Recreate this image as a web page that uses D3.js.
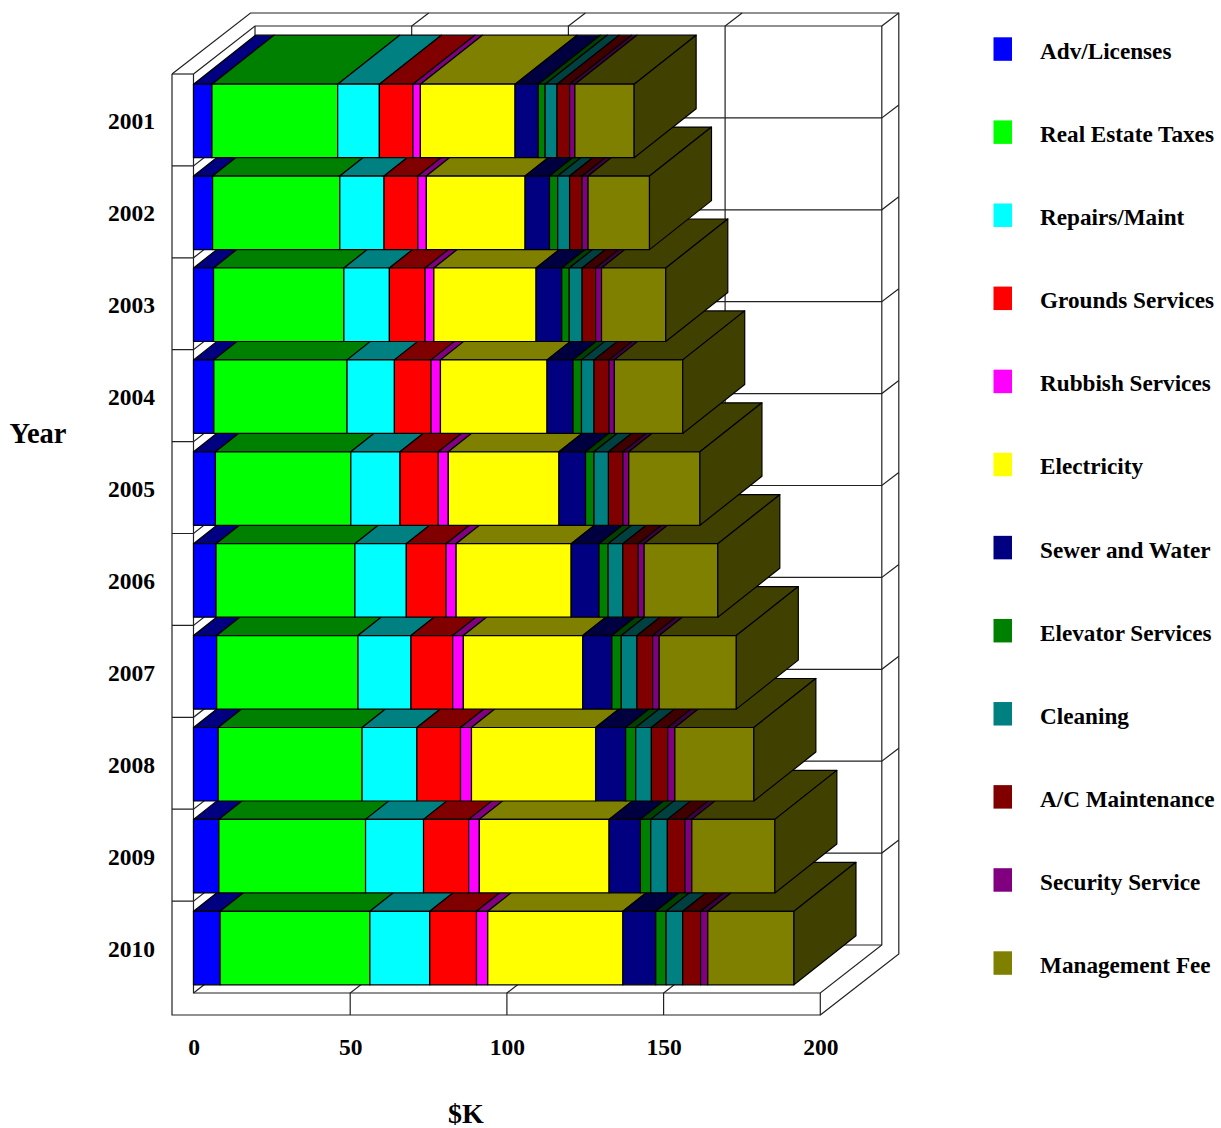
<!DOCTYPE html>
<html>
<head>
<meta charset="utf-8">
<script src="https://d3js.org/d3.v7.min.js"></script>
<style>
body { margin: 0; background: #fff; }
text { font-family: "Liberation Serif", serif; font-weight: bold; fill: #000; }
</style>
</head>
<body>
<svg width="1221" height="1128"></svg>
<script>
// values, in $K
let years = ["2001", "2002", "2003", "2004", "2005", "2006", "2007", "2008", "2009", "2010"];
let xTicks = [0, 50, 100, 150, 200];
let names = ["Adv/Licenses", "Real Estate Taxes", "Repairs/Maint", "Grounds Services", "Rubbish Services",
    "Electricity", "Sewer and Water", "Elevator Services", "Cleaning", "A/C Maintenance",
    "Security Service", "Management Fee"];
let colors = ["#0000ff", "#00ff00", "#00ffff", "#ff0000", "#ff00ff", "#ffff00",
    "#000080", "#008000", "#008080", "#800000", "#800080", "#808000"];

let advLicenses = [5.9, 6.1, 6.4, 6.5, 7.0, 7.2, 7.4, 7.9, 8.1, 8.5];
let realEstateTaxes = [40.1, 40.6, 41.6, 42.5, 43.2, 44.3, 45.1, 45.9, 46.8, 47.8];
let repairsMaint = [13.3, 14.1, 14.5, 15.1, 15.7, 16.4, 16.9, 17.5, 18.5, 19.1];
let groundsServices = [10.7, 10.8, 11.4, 11.7, 12.2, 12.7, 13.3, 13.9, 14.4, 14.9];
let rubbishServices = [2.4, 2.7, 2.8, 3.0, 3.2, 3.2, 3.4, 3.5, 3.4, 3.6];
let electricity = [30.2, 31.5, 32.6, 34.0, 35.3, 36.7, 38.1, 39.6, 41.4, 43.1];
let sewerWater = [7.4, 7.8, 8.2, 8.3, 8.5, 8.9, 9.3, 9.6, 10.0, 10.5];
let elevatorServices = [2.2, 2.6, 2.4, 2.7, 2.7, 2.9, 3.0, 3.2, 3.3, 3.3];
let cleaning = [3.8, 3.8, 4.1, 4.0, 4.6, 4.7, 5.0, 5.0, 5.3, 5.3];
let acMaintenance = [4.0, 4.0, 4.3, 4.8, 4.6, 4.9, 5.0, 5.2, 5.6, 5.7];
let securityService = [1.7, 1.9, 1.9, 1.7, 1.9, 1.9, 2.1, 2.3, 2.2, 2.3];
let managementFee = [18.9, 19.6, 20.5, 21.8, 22.7, 23.5, 24.6, 25.2, 26.5, 27.5];

let seriesValues = [advLicenses, realEstateTaxes, repairsMaint, groundsServices, rubbishServices, electricity,
    sewerWater, elevatorServices, cleaning, acMaintenance, securityService, managementFee];

let svg = d3.select("svg");

// the plot box: front plane left/right/top/bottom and the two depth offsets
let plotLeft = 193.5, plotRight = 820.3, plotTop = 74, plotBottom = 993;
let wall = { dx: 61.5, dy: -48 };     // front plane to back wall
let lip = { dx: 17, dy: -13 };        // back wall to outer edge
let barDepth = { dx: 62, dy: -49 };
let outerX = 172, outerY = 1015;

let x = d3.scaleLinear().domain([0, 200]).range([plotLeft, plotRight]);
let y = d3.scaleBand().domain(years).range([plotTop + 1, plotBottom + 1]).paddingInner(0.2).paddingOuter(0.1);

// half brightness colour used on the top faces
function shade(c) {
    let rgb = d3.rgb(c);
    return d3.rgb(rgb.r / 2, rgb.g / 2, rgb.b / 2).formatHex();
}

let line = d3.line();

// frame and grid
let frame = svg.append("g").attr("fill", "none").attr("stroke", "#222").attr("stroke-width", 1.2);

function addPath(points) {
    frame.append("path").attr("d", line(points));
}

let step = (plotBottom - plotTop) / years.length;
d3.range(1, years.length).forEach(function (i) {
    let gy = plotTop + i * step;
    addPath([[outerX, gy], [plotLeft, gy], [plotLeft + wall.dx, gy + wall.dy], [plotRight + wall.dx, gy + wall.dy],
        [plotRight + wall.dx + lip.dx, gy + wall.dy + lip.dy]]);
});

xTicks.slice(1, -1).forEach(function (t) {
    let tx = x(t);
    addPath([[tx, outerY], [tx, plotBottom], [tx + wall.dx, plotBottom + wall.dy], [tx + wall.dx, plotTop + wall.dy],
        [tx + wall.dx + lip.dx, plotTop + wall.dy + lip.dy]]);
});

let backLeft = plotLeft + wall.dx, backRight = plotRight + wall.dx;
let backTop = plotTop + wall.dy, backBottom = plotBottom + wall.dy;
let farX = backRight + lip.dx, farTop = backTop + lip.dy;

addPath([[plotLeft, plotTop], [plotLeft, plotBottom], [plotRight, plotBottom], [backRight, backBottom], [backRight, backTop], [backLeft, backTop], [plotLeft, plotTop]]);
addPath([[backLeft, backTop], [backLeft, backBottom], [backRight, backBottom]]);
addPath([[plotLeft, plotBottom], [backLeft, backBottom]]);
addPath([[outerX, plotTop], [outerX, outerY], [plotRight, outerY], [plotRight, plotBottom]]);
addPath([[outerX, plotTop], [plotLeft, plotTop]]);
addPath([[outerX, plotTop], [outerX + wall.dx + lip.dx, farTop], [farX, farTop], [farX, outerY + wall.dy + lip.dy], [plotRight, outerY]]);
addPath([[backRight, backTop], [farX, farTop]]);

// stacked bars, nearest the viewer is 2001 so it is drawn last
let rows = years.map(function (year, i) {
    let row = { year: year };
    names.forEach(function (name, s) { row[name] = seriesValues[s][i]; });
    return row;
});
let stacked = d3.stack().keys(names)(rows);

let bars = svg.append("g").attr("stroke", "#000").attr("stroke-width", 1.2).attr("stroke-linejoin", "round");

years.slice().reverse().forEach(function (year) {
    let i = years.indexOf(year);
    let yTop = y(year), yBot = yTop + y.bandwidth();
    let g = bars.append("g").attr("class", "bar");

    stacked.forEach(function (layer, s) {
        let x0 = x(layer[i][0]), x1 = x(layer[i][1]);
        g.append("path")
            .attr("fill", shade(colors[s]))
            .attr("d", line([[x0, yTop], [x1, yTop], [x1 + barDepth.dx, yTop + barDepth.dy], [x0 + barDepth.dx, yTop + barDepth.dy]]) + "Z");
        g.append("rect")
            .attr("x", x0)
            .attr("y", yTop)
            .attr("width", x1 - x0)
            .attr("height", yBot - yTop)
            .attr("fill", colors[s]);
    });

    let end = x(stacked[stacked.length - 1][i][1]);
    g.append("path")
        .attr("fill", shade(colors[colors.length - 1]))
        .attr("d", line([[end, yTop], [end + barDepth.dx, yTop + barDepth.dy], [end + barDepth.dx, yBot + barDepth.dy], [end, yBot]]) + "Z");
});

// axes
let xAxis = svg.append("g")
    .attr("transform", "translate(0,1038)")
    .call(d3.axisBottom(x).tickValues(xTicks).tickSize(0).tickPadding(0));
xAxis.select(".domain").remove();
xAxis.selectAll("text").style("font-size", "23.5px").attr("fill", "#000");

let yAxis = svg.append("g")
    .attr("transform", "translate(155,1)")
    .call(d3.axisLeft(y).tickSize(0).tickPadding(0));
yAxis.select(".domain").remove();
yAxis.selectAll("text").style("font-size", "23.5px").attr("fill", "#000");

svg.append("text").attr("x", 38).attr("y", 443).attr("text-anchor", "middle").style("font-size", "28.5px").text("Year");
svg.append("text").attr("x", 466).attr("y", 1123).attr("text-anchor", "middle").style("font-size", "28px").text("$K");

// legend
let legendY = d3.scalePoint().domain(names).range([49, 963]);
let legend = svg.append("g").selectAll("g")
    .data(names)
    .enter().append("g")
    .attr("transform", function (d) { return "translate(0," + legendY(d) + ")"; });

legend.append("rect")
    .attr("x", 993.5)
    .attr("y", -11.7)
    .attr("width", 18.5)
    .attr("height", 23.5)
    .attr("fill", function (d, i) { return colors[i]; });

legend.append("text")
    .attr("x", 1040)
    .attr("y", 10)
    .style("font-size", "23.2px")
    .text(function (d) { return d; });
</script>
</body>
</html>
